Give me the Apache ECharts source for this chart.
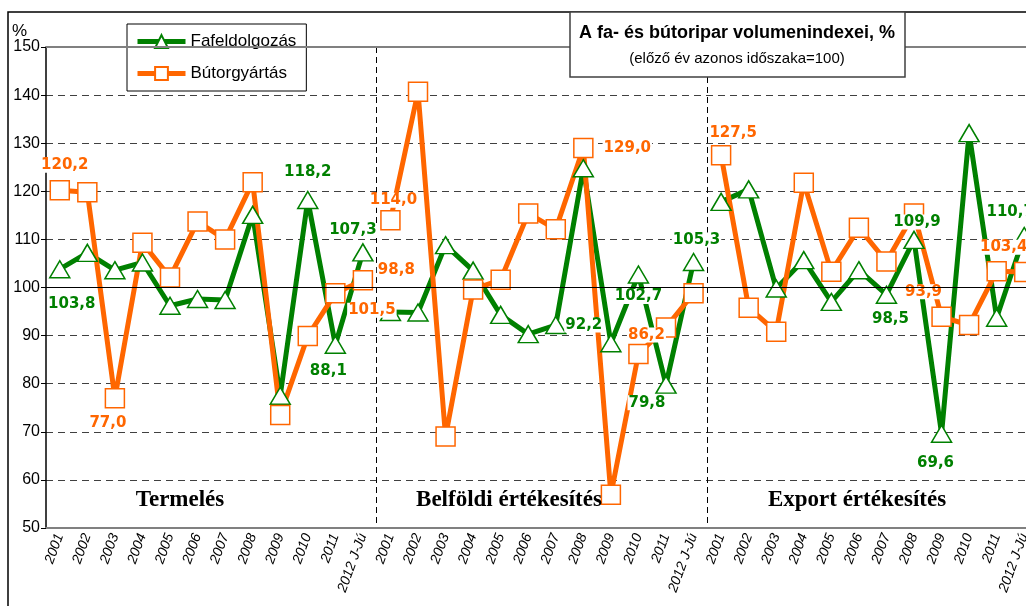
<!DOCTYPE html>
<html>
<head>
<meta charset="utf-8">
<script src="https://cdn.jsdelivr.net/npm/echarts@6/dist/echarts.min.js"></script>
<style>
  html, body { margin: 0; padding: 0; background: #fff; overflow: hidden; }
  /* a rajzterület jobbra túlnyúlik a képen, mint az eredetin */
  #main { width: 1040px; height: 606px; }
</style>
</head>
<body>
<div id="main"></div>
<script>
// évek egy panelen belül
var years = ['2001', '2002', '2003', '2004', '2005', '2006', '2007', '2008', '2009', '2010', '2011', '2012 J-Jú'];
var panels = ['Termelés', 'Belföldi értékesítés', 'Export értékesítés'];
var yTicks = [50, 60, 70, 80, 90, 100, 110, 120, 130, 140, 150];

// Fafeldolgozás (zöld)
var termelesFa = [103.8, 107.2, 103.6, 105.2, 96.2, 97.6, 97.4, 115.1, 77.5, 118.2, 88.1, 107.3];
var belfoldiFa = [94.9, 94.8, 108.8, 103.5, 94.3, 90.3, 92.2, 124.8, 88.4, 102.7, 79.8, 105.3];
var exportFa = [117.8, 120.4, 99.8, 105.7, 97.0, 103.6, 98.5, 109.9, 69.6, 132.1, 93.7, 110.7];

// Bútorgyártás (narancs)
var termelesButor = [120.2, 119.8, 77.0, 109.3, 102.1, 113.7, 110.0, 121.9, 73.5, 89.9, 98.8, 101.5];
var belfoldiButor = [114.0, 140.7, 69.0, 99.6, 101.6, 115.4, 112.1, 129.0, 56.9, 86.2, 91.7, 98.8];
var exportButor = [127.5, 95.8, 90.8, 121.8, 103.3, 112.4, 105.4, 115.4, 93.9, 92.2, 103.4, 103.2];

// feliratok helye (eltolás a ponthoz képest)
var faLabels = {0: [12, 35], 9: [0, -28], 10: [-7, 26], 11: [-10, -22], 18: [28, 0], 21: [0, 22],
  22: [-19, 18], 23: [3, -22], 30: [4, 24], 31: [3, -18], 32: [-6, 29], 35: [-14, -24]};
var butorLabels = {0: [5, -25], 2: [-7, 25], 10: [61, -23], 11: [9, 30], 12: [3, -20], 19: [44, 0],
  21: [8, -19], 24: [12, -22], 32: [-18, -25], 34: [7, -24]};

var GREEN = '#008000', ORANGE = '#FF6600';
var n = years.length;

var categories = [];
panels.forEach(function () { categories = categories.concat(years); });

function fmt(p) { return p.value.toFixed(1).replace('.', ','); }

function panelData(values, p, labels, color) {
  var out = [];
  for (var i = 0; i < n * panels.length; i++) {
    var k = i - p * n;
    if (k < 0 || k >= n) { out.push(null); continue; }
    var item = {value: values[k]};
    if (labels[i]) {
      item.label = {show: true, position: 'inside', offset: labels[i], formatter: fmt,
        color: color, fontFamily: 'DejaVu Sans', fontWeight: 'bold', fontSize: 15,
        backgroundColor: '#fff', padding: [0, 1]};
    }
    out.push(item);
  }
  return out;
}

function makeSeries(name, list, labels, color, symbol, size) {
  return list.map(function (vals, p) {
    return {
      name: name, type: 'line', data: panelData(vals, p, labels, color),
      symbol: symbol, symbolSize: size, connectNulls: false,
      lineStyle: {color: color, width: 5},
      itemStyle: {color: '#fff', borderColor: color, borderWidth: 1.5},
      label: {show: false},
      emphasis: {disabled: true}
    };
  });
}

var series = makeSeries('Fafeldolgozás', [termelesFa, belfoldiFa, exportFa], faLabels, GREEN, 'triangle', [20, 17])
  .concat(makeSeries('Bútorgyártás', [termelesButor, belfoldiButor, exportButor], butorLabels, ORANGE, 'rect', 19));

series[0].markLine = {
  silent: true, symbol: 'none', label: {show: false}, animation: false,
  data: [
    {yAxis: 100, lineStyle: {color: '#000', type: 'solid', width: 1}},
    {yAxis: 150, lineStyle: {color: '#808080', type: 'solid', width: 2}}
  ]
};

var myChart = echarts.init(document.getElementById('main'));

var option = {
  animation: false,
  grid: {left: 46, top: 47, right: 2, height: 481},
  legend: {
    data: ['Fafeldolgozás', 'Bútorgyártás'],
    orient: 'vertical', left: 127, top: 24,
    padding: [9, 10, 9, 8], itemGap: 15, itemWidth: 48, itemHeight: 16,
    backgroundColor: '#fff', borderColor: '#000', borderWidth: 1,
    lineStyle: {width: 5},
    textStyle: {fontFamily: 'Liberation Sans', fontSize: 17, color: '#000'}
  },
  xAxis: {
    type: 'category', data: categories, boundaryGap: true,
    axisLine: {lineStyle: {color: '#808080', width: 2}},
    axisTick: {show: false},
    axisLabel: {interval: 0, rotate: 70, fontStyle: 'italic', fontSize: 14,
      fontFamily: 'Liberation Sans', color: '#000', margin: 6},
    splitLine: {show: true,
      interval: function (index) { return index === n || index === 2 * n; },
      lineStyle: {color: '#000', type: [6, 4], width: 1}}
  },
  yAxis: {
    type: 'value', min: yTicks[0], max: yTicks[yTicks.length - 1], interval: 10,
    axisLine: {show: true, lineStyle: {color: '#000', width: 1.5}},
    axisTick: {show: true, length: 5, lineStyle: {color: '#000'}},
    axisLabel: {fontSize: 16, fontFamily: 'Liberation Sans', color: '#000', margin: 6},
    splitLine: {lineStyle: {color: '#404040', type: [7, 5], width: 1}}
  },
  graphic: [
    {type: 'rect', shape: {x: 8, y: 12, width: 1100, height: 700},
      style: {fill: 'none', stroke: '#000', lineWidth: 1.5}, silent: true},
    {type: 'text', x: 12, y: 23, style: {text: '%', font: '17px "Liberation Sans"', fill: '#000'}},
    {type: 'rect', z: 100, shape: {x: 570, y: 12, width: 335, height: 65},
      style: {fill: '#fff', stroke: '#404040', lineWidth: 1.5}},
    {type: 'text', z: 101, x: 737, y: 33, style: {text: 'A fa- és bútoripar volumenindexei, %',
      font: 'bold 18px "Liberation Sans"', fill: '#000', align: 'center', verticalAlign: 'middle',
      textAlign: 'center', textVerticalAlign: 'middle'}},
    {type: 'text', z: 101, x: 737, y: 59, style: {text: '(előző év azonos időszaka=100)',
      font: '15px "Liberation Sans"', fill: '#000', align: 'center', verticalAlign: 'middle',
      textAlign: 'center', textVerticalAlign: 'middle'}},
    {type: 'text', z: 50, x: 180, y: 500, style: {text: panels[0], font: 'bold 23px "Liberation Serif"',
      fill: '#000', align: 'center', verticalAlign: 'middle', textAlign: 'center', textVerticalAlign: 'middle'}},
    {type: 'text', z: 50, x: 509, y: 500, style: {text: panels[1], font: 'bold 23px "Liberation Serif"',
      fill: '#000', align: 'center', verticalAlign: 'middle', textAlign: 'center', textVerticalAlign: 'middle'}},
    {type: 'text', z: 50, x: 857, y: 500, style: {text: panels[2], font: 'bold 23px "Liberation Serif"',
      fill: '#000', align: 'center', verticalAlign: 'middle', textAlign: 'center', textVerticalAlign: 'middle'}}
  ],
  series: series
};

myChart.setOption(option);
</script>
</body>
</html>
